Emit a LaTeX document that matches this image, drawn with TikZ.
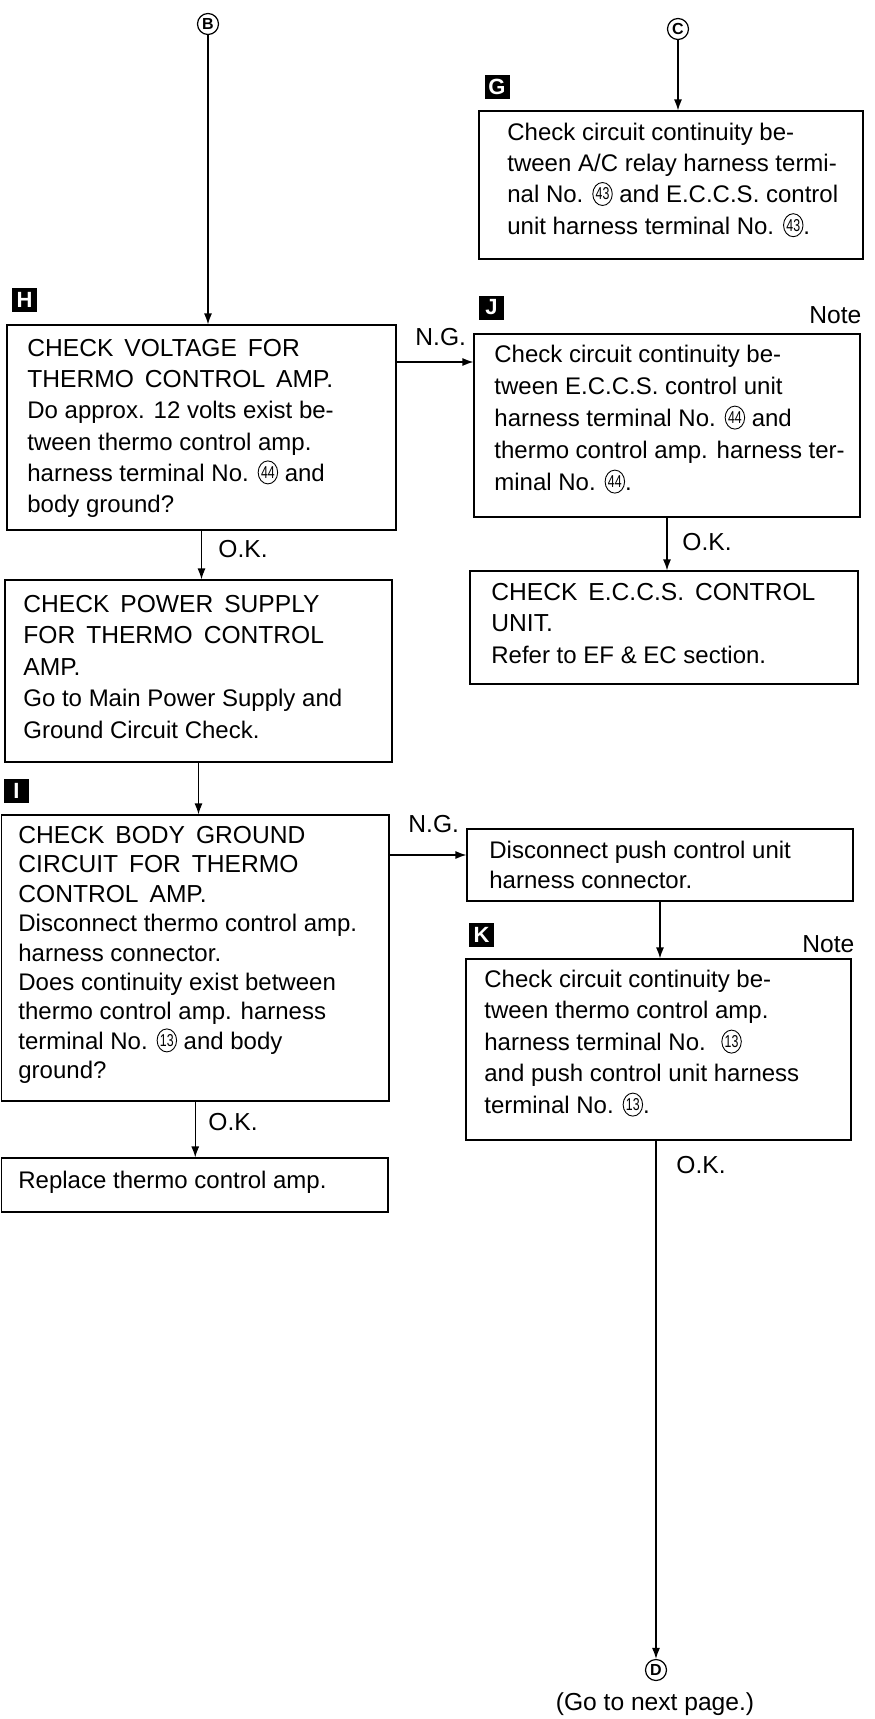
\documentclass[tikz,border=0pt]{standalone}
\usepackage{fontspec}
\usepackage{graphicx}
\setmainfont{Liberation Sans}
\newfontfamily\capsfont{Liberation Sans}[WordSpace=1.6]
\usetikzlibrary{arrows.meta,shapes.geometric}
\newcommand{\cnum}[1]{\tikz[baseline={([yshift=-4.4pt]cn.center)}]\node[draw,ellipse,line width=0.45pt,inner sep=0pt,minimum width=9.5pt,minimum height=11.5pt,font=\fontsize{8.6}{8.6}\selectfont](cn){\scalebox{0.72}[1]{#1}};}
\newcommand{\st}{\rule{0pt}{9.5pt}}
\tikzset{
  box/.style={draw,line width=0.6pt,rectangle,inner sep=0pt},
  txt/.style={inner sep=0pt,anchor=north west,align=left,font=\fontsize{12}{15.6}\selectfont},
  tag/.style={fill=black,text=white,inner sep=0pt,minimum width=12.5pt,minimum height=12pt,font=\bfseries\fontsize{11}{11}\selectfont},
  conn/.style={circle,draw,line width=0.6pt,minimum size=10.5pt,inner sep=0pt,font=\bfseries\fontsize{8}{8}\selectfont},
  arr/.style={draw,line width=0.6pt,-{Latex[length=5.5pt,width=4pt]}},
  lbl/.style={inner sep=0pt,anchor=base west,font=\fontsize{12.3}{15}\selectfont}
}
\begin{document}
\begin{tikzpicture}[x=0.5pt,y=-0.5pt]
\useasboundingbox (0,0) rectangle (874,1719);

% connectors (circles)
\node[conn] (B) at (208,24) {B};
\node[conn] (C) at (678,29) {C};
\node[conn] (D) at (656,1670) {D};

% boxes
\node[box,minimum width=192pt,minimum height=74pt] (G) at (671,185) {};
\node[box,minimum width=194.5pt,minimum height=102.5pt] (H) at (201.5,427.5) {};
\node[box,minimum width=193pt,minimum height=91.5pt] (J) at (667,425.5) {};
\node[box,minimum width=193.5pt,minimum height=91pt] (P) at (198.5,671) {};
\node[box,minimum width=194pt,minimum height=56.5pt] (E) at (664,627.5) {};
\node[box,minimum width=193.75pt,minimum height=143pt] (I) at (195.25,958) {};
\node[box,minimum width=193pt,minimum height=36pt] (DC) at (660,865) {};
\node[box,minimum width=192.5pt,minimum height=90.5pt] (K) at (658.5,1049.5) {};
\node[box,minimum width=193.25pt,minimum height=27pt] (R) at (194.75,1185) {};

% texts
\node[txt] (Gt) at (507,121) {\st Check circuit continuity be-\\tween A/C relay harness termi-\\nal No. \cnum{43} and E.C.C.S. control\\unit harness terminal No. \cnum{43}.};
\node[txt] (Ht) at (27,337) {\st{\capsfont\fontsize{12.3}{15.6}\selectfont CHECK VOLTAGE FOR}\\{\capsfont\fontsize{12.3}{15.6}\selectfont THERMO CONTROL AMP.}\\Do approx. 12 volts exist be-\\tween thermo control amp.\\harness terminal No. \cnum{44} and\\body ground?};
\node[txt,font=\fontsize{12}{16}\selectfont] (Jt) at (494,343) {\st Check circuit continuity be-\\tween E.C.C.S. control unit\\harness terminal No. \cnum{44} and\\thermo control amp. harness ter-\\minal No. \cnum{44}.};
\node[txt,font=\fontsize{12}{15.75}\selectfont] (Et) at (491,581) {\st{\capsfont\fontsize{12.3}{15.75}\selectfont CHECK E.C.C.S. CONTROL}\\{\capsfont\fontsize{12.3}{15.75}\selectfont UNIT.}\\Refer to EF \& EC section.};
\node[txt,font=\fontsize{12}{15.75}\selectfont] (Pt) at (23,593) {\st{\capsfont\fontsize{12.3}{15.75}\selectfont CHECK POWER SUPPLY}\\{\capsfont\fontsize{12.3}{15.75}\selectfont FOR THERMO CONTROL}\\{\capsfont\fontsize{12.3}{15.75}\selectfont AMP.}\\Go to Main Power Supply and\\Ground Circuit Check.};
\node[txt,font=\fontsize{12}{14.7}\selectfont] (It) at (18,824) {\st{\capsfont\fontsize{12.3}{14.7}\selectfont CHECK BODY GROUND}\\{\capsfont\fontsize{12.3}{14.7}\selectfont CIRCUIT FOR THERMO}\\{\capsfont\fontsize{12.3}{14.7}\selectfont CONTROL AMP.}\\Disconnect thermo control amp.\\harness connector.\\Does continuity exist between\\thermo control amp. harness\\terminal No. \cnum{13} and body\\ground?};
\node[txt,font=\fontsize{12}{15}\selectfont] (DCt) at (489,839) {\st Disconnect push control unit\\harness connector.};
\node[txt,font=\fontsize{12}{15.75}\selectfont] (Kt) at (484,968) {\st Check circuit continuity be-\\tween thermo control amp.\\harness terminal No. \ \cnum{13}\\and push control unit harness\\terminal No. \cnum{13}.};
\node[txt] (Rt) at (18,1169) {\st Replace thermo control amp.};

% tags
\node[tag] (tG) at (497,87) {G};
\node[tag] (tH) at (24.5,299.5) {H};
\node[tag] (tJ) at (491.5,307.5) {J};
\node[tag] (tI) at (16.5,791) {I};
\node[tag] (tK) at (481.5,934.5) {K};

% labels
\node[lbl] (ng1l) at (415,345) {N.G.};
\node[lbl] (ng2l) at (408,832) {N.G.};
\node[lbl] (ok1) at (218,557) {O.K.};
\node[lbl] (ok2) at (682,550) {O.K.};
\node[lbl] (ok3) at (208,1130) {O.K.};
\node[lbl] (ok4) at (676,1173) {O.K.};
\node[lbl] (note1) at (809,323) {Note};
\node[lbl] (note2) at (802,952) {Note};
\node[inner sep=0pt,anchor=base,font=\fontsize{12.3}{15}\selectfont] (goto) at (655,1710) {(Go to next page.)};

% arrows
\coordinate (ng1) at (0,362);
\coordinate (ng2) at (0,855);
\draw[arr] (B) -- (B |- H.north);
\draw[arr] (C) -- (C |- G.north);
\draw[arr] (H.east |- ng1) -- (J.west |- ng1);
\draw[arr] (H.south) -- (H.south |- P.north);
\draw[arr] (P.south) -- (P.south |- I.north);
\draw[arr] (I.east |- ng2) -- (DC.west |- ng2);
\draw[arr] (I.south) -- (I.south |- R.north);
\draw[arr] (J.south) -- (J.south |- E.north);
\draw[arr] (DC.south) -- (DC.south |- K.north);
\draw[arr] (D |- K.south) -- (D);
\end{tikzpicture}
\end{document}
